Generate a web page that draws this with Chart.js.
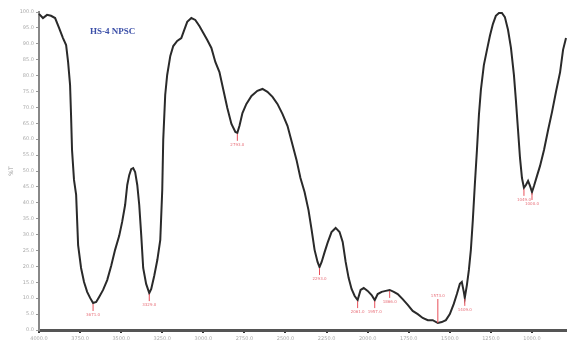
<!DOCTYPE html>
<html>
<head>
<meta charset="utf-8">
<script src="https://cdn.jsdelivr.net/npm/chart.js@4/dist/chart.umd.min.js"></script>
<style>
  html, body { margin: 0; padding: 0; background: #fff; }
  #wrap { width: 567px; height: 349px; }
</style>
</head>
<body>
<div id="wrap"><canvas id="ftir" width="567" height="349"></canvas></div>
<script>
// spectre (nombre d'onde cm-1 / %T)
const wavenumbers = [4000, 3976, 3951, 3927, 3902, 3878, 3854, 3835, 3823, 3811, 3805, 3799, 3787, 3774, 3768, 3762,
  3744, 3726, 3707, 3689, 3671, 3652, 3634, 3610, 3585, 3561, 3537, 3512, 3494, 3476, 3463, 3451, 3439, 3427, 3415,
  3402, 3390, 3378, 3366, 3348, 3329, 3317, 3299, 3280, 3262, 3250, 3244, 3232, 3220, 3201, 3183, 3159, 3134, 3116,
  3098, 3073, 3049, 3024, 3000, 2976, 2951, 2927, 2902, 2878, 2854, 2829, 2805, 2793, 2780, 2762, 2738, 2707, 2671,
  2640, 2610, 2579, 2549, 2518, 2488, 2457, 2433, 2409, 2384, 2360, 2341, 2323, 2305, 2293, 2280, 2262, 2244, 2220,
  2195, 2171, 2152, 2134, 2116, 2098, 2079, 2061, 2043, 2024, 2000, 1976, 1957, 1939, 1915, 1890, 1866, 1841, 1817,
  1787, 1756, 1726, 1695, 1665, 1634, 1604, 1573, 1549, 1524, 1500, 1476, 1457, 1439, 1427, 1415, 1409, 1396, 1384,
  1372, 1360, 1348, 1335, 1323, 1311, 1293, 1274, 1256, 1238, 1220, 1201, 1183, 1165, 1146, 1128, 1110, 1098, 1085,
  1073, 1061, 1049, 1037, 1024, 1012, 1000, 988, 970, 951, 927, 902, 878, 854, 829, 811, 793];

const transmittance = [99.4, 98.1, 99.1, 98.8, 98.1, 95.0, 91.8, 89.6, 84.3, 77.1, 67.6, 56.6, 47.2, 42.5, 34.6, 26.7,
  19.5, 15.1, 12.0, 10.1, 8.5, 8.8, 10.4, 12.6, 15.7, 20.1, 25.2, 29.6, 34.0, 39.3, 45.6, 48.7, 50.6, 50.9, 49.7,
  45.6, 39.3, 29.9, 19.5, 14.5, 11.6, 12.9, 17.0, 22.0, 28.3, 44.0, 59.8, 73.9, 80.2, 86.2, 89.3, 90.9, 91.8, 94.4,
  96.9, 98.1, 97.5, 95.6, 93.4, 91.2, 88.7, 84.3, 81.1, 75.5, 69.8, 64.8, 62.3, 62.0, 64.2, 68.2, 71.1, 73.6, 75.2,
  75.8, 74.9, 73.3, 71.1, 67.9, 64.2, 58.2, 53.5, 47.8, 43.4, 37.7, 31.5, 25.2, 21.4, 19.8, 21.4, 24.5, 27.4, 30.8,
  32.1, 30.8, 27.7, 21.4, 16.4, 12.9, 10.7, 9.4, 12.6, 13.2, 12.3, 11.0, 9.4, 11.3, 12.0, 12.3, 12.6, 12.0, 11.3,
  9.7, 7.9, 6.0, 5.0, 3.8, 3.1, 3.1, 2.2, 2.5, 3.1, 5.0, 8.2, 11.3, 14.5, 15.1, 12.0, 10.1, 14.2, 18.9,
  25.2, 34.6, 45.6, 56.6, 67.6, 75.5, 83.3, 88.1, 92.5, 96.2, 98.8, 99.7, 99.7, 98.4, 94.4, 88.7, 80.2, 72.3, 62.9,
  54.1, 47.8, 44.7, 45.6, 46.9, 45.3, 43.4, 45.3, 48.4, 51.6, 56.6, 62.9, 68.6, 74.9, 81.1, 88.1, 91.8];

// pics marqués en rouge
const peakWavenumbers = [3671, 3329, 2793, 2293, 2061, 1957, 1866, 1573, 1409, 1049, 1000];
const peakValues = [8.5, 11.6, 62.0, 19.8, 9.4, 9.4, 12.6, 2.2, 10.1, 44.7, 43.4];

const xTicks = [4000, 3750, 3500, 3250, 3000, 2750, 2500, 2250, 2000, 1750, 1500, 1250, 1000];
const titre = 'HS-4 NPSC';

const points = wavenumbers.map((w, i) => ({ x: w, y: transmittance[i] }));

const marquesPics = {
  id: 'marquesPics',
  afterDatasetsDraw(chart) {
    const { ctx, scales: { x, y }, chartArea } = chart;
    ctx.save();
    ctx.strokeStyle = '#e8505a';
    ctx.fillStyle = '#e8707a';
    ctx.lineWidth = 1;
    ctx.font = '4px "DejaVu Sans"';
    ctx.textAlign = 'center';
    peakWavenumbers.forEach((w, i) => {
      const px = x.getPixelForValue(w);
      const py = y.getPixelForValue(peakValues[i]);
      const vaEnHaut = chartArea.bottom - py < 16;
      ctx.beginPath();
      if (vaEnHaut) {
        ctx.moveTo(px, py);
        ctx.lineTo(px, py - 24);
        ctx.stroke();
        ctx.textBaseline = 'bottom';
        ctx.fillText(w.toFixed(1), px, py - 25);
      } else {
        ctx.moveTo(px, py + 1);
        ctx.lineTo(px, py + 8);
        ctx.stroke();
        ctx.textBaseline = 'top';
        ctx.fillText(w.toFixed(1), px, py + 10);
      }
    });
    // titre dans le graphique
    ctx.fillStyle = '#3b4fa8';
    ctx.font = 'bold 9px "Liberation Serif"';
    ctx.textAlign = 'left';
    ctx.textBaseline = 'middle';
    ctx.fillText(titre, chartArea.left + 51, 32);
    ctx.restore();
  }
};

new Chart(document.getElementById('ftir').getContext('2d'), {
  type: 'line',
  data: {
    datasets: [{
      data: points,
      borderColor: '#2a2a2a',
      borderWidth: 2,
      pointRadius: 0,
      tension: 0,
      fill: false,
      clip: false
    }]
  },
  options: {
    responsive: false,
    animation: false,
    layout: { padding: { top: 12, right: 0, left: 0, bottom: 0 } },
    plugins: { legend: { display: false }, tooltip: { enabled: false } },
    scales: {
      x: {
        type: 'linear',
        reverse: true,
        min: 787,
        max: 4000,
        afterBuildTicks: scale => { scale.ticks = xTicks.map(v => ({ value: v })); },
        afterFit: scale => { scale.height = 19; },
        border: { display: true, color: '#555', width: 3 },
        grid: { drawOnChartArea: false, color: '#333', tickLength: 3, lineWidth: 2 },
        ticks: {
          color: '#aaa',
          font: { size: 5, family: 'DejaVu Sans' },
          padding: 3,
          maxRotation: 0,
          callback: v => v.toFixed(1)
        }
      },
      y: {
        min: 0,
        max: 100,
        afterFit: scale => { scale.width = 39; },
        border: { display: true, color: '#888', width: 2 },
        grid: { drawOnChartArea: false, color: '#999', tickLength: 3 },
        title: { display: true, text: '%T', color: '#999', font: { size: 6, family: 'DejaVu Sans' }, padding: { top: 8, bottom: 0 } },
        ticks: {
          stepSize: 5,
          color: '#aaa',
          font: { size: 5, family: 'DejaVu Sans' },
          padding: 2,
          callback: v => v.toFixed(1)
        }
      }
    }
  },
  plugins: [marquesPics]
});
</script>
</body>
</html>
